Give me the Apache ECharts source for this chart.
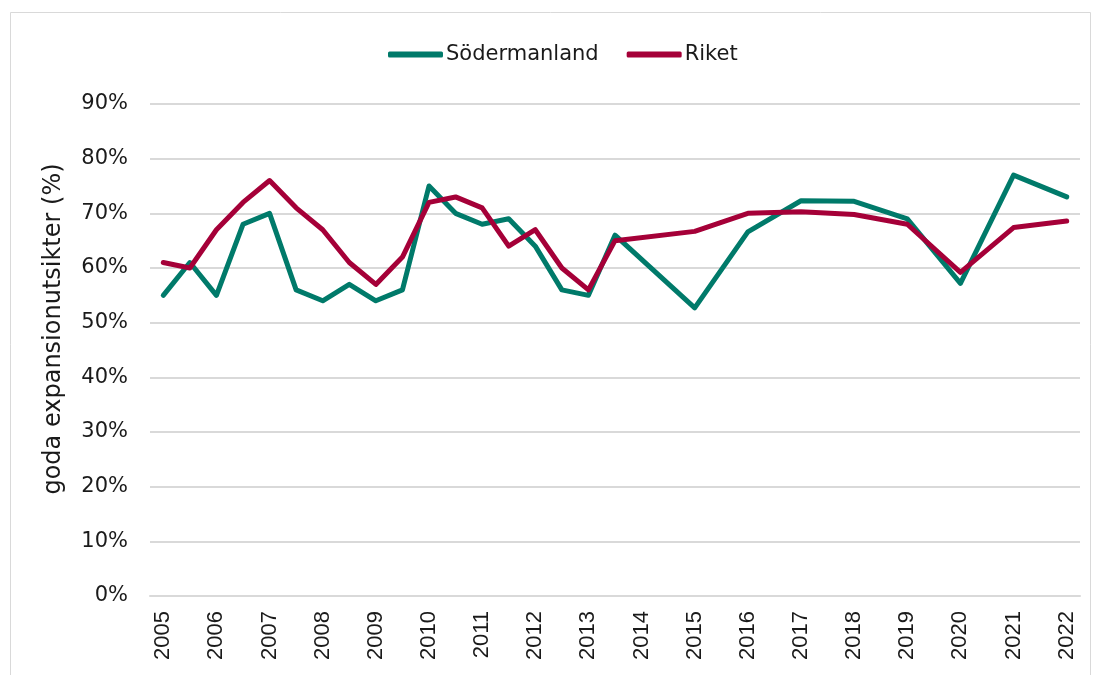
<!DOCTYPE html>
<html>
<head>
<meta charset="utf-8">
<script src="https://cdn.jsdelivr.net/npm/echarts@6/dist/echarts.min.js"></script>
<style>
  html, body { margin: 0; padding: 0; background: #fff; }
  #chart { width: 1094px; height: 675px; }
</style>
</head>
<body>
<div id="chart"></div>
<script>
// halvårsperioder 2005-2022, etiketter bara på helår
var periods = [
    '2005', '2005H2', '2006', '2006H2', '2007', '2007H2', '2008', '2008H2',
    '2009', '2009H2', '2010', '2010H2', '2011', '2011H2', '2012', '2012H2',
    '2013', '2013H2', '2014', '2014H2', '2015', '2015H2', '2016', '2016H2',
    '2017', '2017H2', '2018', '2018H2', '2019', '2019H2', '2020', '2020H2',
    '2021', '2021H2', '2022'
];

var sodermanland = [
    55, 61, 55, 68, 70, 56, 54, 57, 54, 56, 75, 70, 68, 69, 64, 56,
    55, 66, null, null, 52.7, null, 66.6, null, 72.3, null, 72.2, null,
    69, null, 57.2, null, 77, null, 73
];

var riket = [
    61, 60, 67, 72, 76, 71, 67, 61, 57, 62, 72, 73, 71, 64, 67, 60,
    56, 65, null, null, 66.7, null, 70, null, 70.3, null, 69.8, null,
    68, null, 59.2, null, 67.4, null, 68.6
];

var yTicks = [0, 10, 20, 30, 40, 50, 60, 70, 80, 90];

var dom = document.getElementById('chart');
var myChart = echarts.init(dom);

var option = {
    animation: false,
    backgroundColor: '#fff',
    graphic: [{
        type: 'rect',
        shape: { x: 10.5, y: 12.5, width: 1080, height: 670 },
        style: { fill: 'none', stroke: '#d9d9d9', lineWidth: 1 },
        silent: true
    }],
    legend: {
        top: 39,
        left: 383,
        itemWidth: 55,
        itemHeight: 6,
        itemGap: 28,
        icon: 'roundRect',
        textStyle: { fontFamily: 'DejaVu Sans', fontSize: 21, color: '#1a1a1a', padding: [0, 0, 0, -2] },
        data: ['Södermanland', 'Riket']
    },
    grid: {
        left: 150,
        right: 14,
        top: 104,
        bottom: 79
    },
    xAxis: {
        type: 'category',
        boundaryGap: true,
        data: periods,
        axisLine: { show: true, lineStyle: { color: '#d9d9d9', width: 2 } },
        axisTick: { show: false },
        axisLabel: {
            interval: 0,
            rotate: 90,
            margin: 15,
            fontFamily: 'Liberation Sans',
            fontSize: 22,
            color: '#1a1a1a',
            formatter: function (v) {
                return v.indexOf('H2') > -1 ? '' : v;
            }
        }
    },
    yAxis: {
        type: 'value',
        min: yTicks[0],
        max: yTicks[yTicks.length - 1],
        interval: 10,
        name: 'goda expansionutsikter (%)',
        nameLocation: 'middle',
        nameGap: 84,
        nameTextStyle: {
            fontFamily: 'DejaVu Sans',
            fontSize: 24,
            color: '#1a1a1a',
            padding: [0, 0, 0, 42]
        },
        axisLine: { show: false },
        axisTick: { show: false },
        axisLabel: {
            margin: 22,
            fontFamily: 'DejaVu Sans',
            fontSize: 21,
            color: '#1a1a1a',
            formatter: '{value}%'
        },
        splitLine: { lineStyle: { color: '#d9d9d9', width: 2 } }
    },
    series: [
        {
            name: 'Södermanland',
            type: 'line',
            data: sodermanland,
            connectNulls: true,
            showSymbol: false,
            symbol: 'none',
            color: '#007A6A',
            lineStyle: { width: 5, color: '#007A6A', cap: 'round', join: 'round' }
        },
        {
            name: 'Riket',
            type: 'line',
            data: riket,
            connectNulls: true,
            showSymbol: false,
            symbol: 'none',
            color: '#A50038',
            lineStyle: { width: 5, color: '#A50038', cap: 'round', join: 'round' }
        }
    ]
};

if (option && typeof option === 'object') {
    myChart.setOption(option, true);
}
</script>
</body>
</html>
